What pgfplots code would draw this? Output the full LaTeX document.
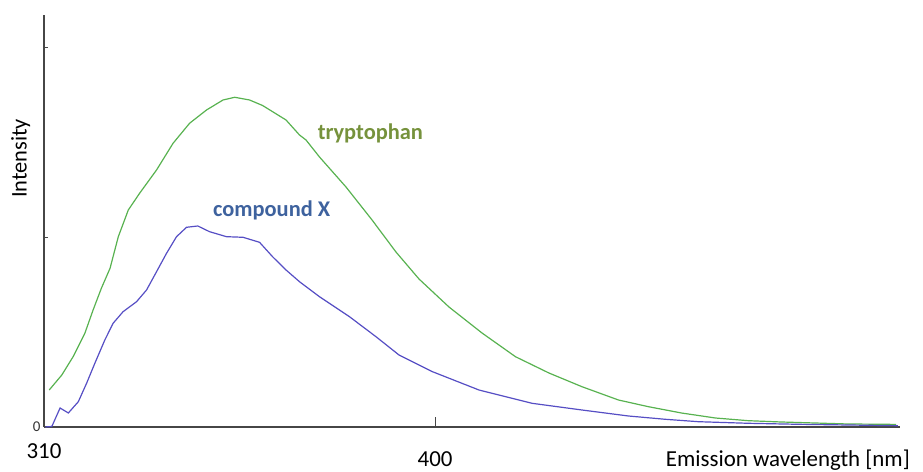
\documentclass[border=0pt]{standalone}
\usepackage{fontspec}
\setmainfont{Carlito}
\usepackage{pgfplots}
\pgfplotsset{compat=1.18}

\definecolor{trpline}{RGB}{88,178,80}
\definecolor{cpxline}{RGB}{86,78,196}
\definecolor{trplabel}{RGB}{118,146,60}
\definecolor{cpxlabel}{RGB}{62,98,158}
\definecolor{axisgray}{RGB}{70,70,70}

\begin{document}
\begin{tikzpicture}[x=1bp,y=1bp]
\useasboundingbox (-44,-45) rectangle (879,427);
\begin{axis}[
  scale only axis,
  width=856bp, height=412bp,
  xmin=310, xmax=507,
  ymin=0, ymax=412,
  axis lines=left,
  axis line style={-, draw=axisgray, line width=1.3bp},
  tick style={draw=axisgray, line width=1bp},
  tick align=inside,
  clip=false,
  /pgf/number format/assume math mode=true,
  ticklabel style={font=\fontsize{23}{23}\selectfont},
  xtick={400},
  major tick length=10bp,
  xticklabel style={anchor=base, yshift=-40bp},
  extra x ticks={310},
  extra x tick style={major tick length=0bp, xticklabel style={yshift=8bp}},
  ytick={189,379},
  yticklabels={},
  ytick style={/pgfplots/major tick length=4bp},
  extra y ticks={0},
  extra y tick labels={0},
  extra y tick style={major tick length=0bp,
    yticklabel style={font=\fontsize{15}{15}\selectfont, text=black!80}},
  xlabel={Emission wavelength [nm]},
  xlabel style={at={(axis description cs:0.869,-0.097)}, anchor=base,
    font=\fontsize{23}{23}\selectfont},
  ylabel={Intensity},
  ylabel style={at={(axis description cs:-0.0202,0.652)}, anchor=base,
    font=\fontsize{22.5}{22.5}\selectfont},
]
% tryptophan
\addplot[color=trpline, line width=1.2bp] coordinates {
(311.2,37) (314.1,52) (316.7,70.3) (319.4,93.7) (321.3,117) (323.2,138.7)
(325.2,158.7) (327.1,190.3) (329.4,217) (332.0,233.7) (335.9,257) (339.7,283.7)
(343.5,303.7) (347.4,317) (351.2,327) (353.9,329.7) (357.3,327) (360.3,321.5)
(365.7,307) (368.8,292) (370.3,287) (373.4,270) (379.5,240)
(385.5,207) (391.0,175) (396.3,148) (403.2,120) (410.8,94) (418.5,70.3)
(426.2,54) (433.8,40.3) (442.2,27) (449.1,20.3) (456.7,14) (464.5,9)
(472.1,6.3) (479.7,5) (487.4,4) (495.1,3) (504.2,2.7) (506.1,2.5)
};
% compound X
\addplot[color=cpxline, line width=1.2bp] coordinates {
(310.3,0) (311.8,0.5) (313.7,19) (315.6,14) (317.9,25.3) (319.8,43.7)
(321.7,63.7) (324.0,87) (325.9,103.7) (328.2,115.3) (331.3,125.3) (333.6,137)
(335.9,155.3) (338.2,173.7) (340.5,190.3) (342.8,199.7) (345.4,201) (348.1,195.3)
(352.0,190.3) (355.8,189.7) (359.6,184.7) (362.6,170.3) (365.7,157) (368.8,145.3)
(373.4,130.3) (380.3,110.3) (386.4,90.3) (391.7,72) (399.4,55.3) (410.1,37)
(422.3,23.7) (433.8,17) (444.5,11) (453.0,7.7) (460.6,5.3) (472.1,3.7)
(483.6,2.7) (495.1,2) (506.5,1.3)
};
\node[anchor=base west, text=trplabel, font=\fontsize{22.5}{22.5}\selectfont\bfseries]
  at (axis cs:372.2,287.7) {tryptophan};
\node[anchor=base west, text=cpxlabel, font=\fontsize{22.5}{22.5}\selectfont\bfseries]
  at (axis cs:348.1,210.3) {compound X};
\end{axis}
\end{tikzpicture}
\end{document}
